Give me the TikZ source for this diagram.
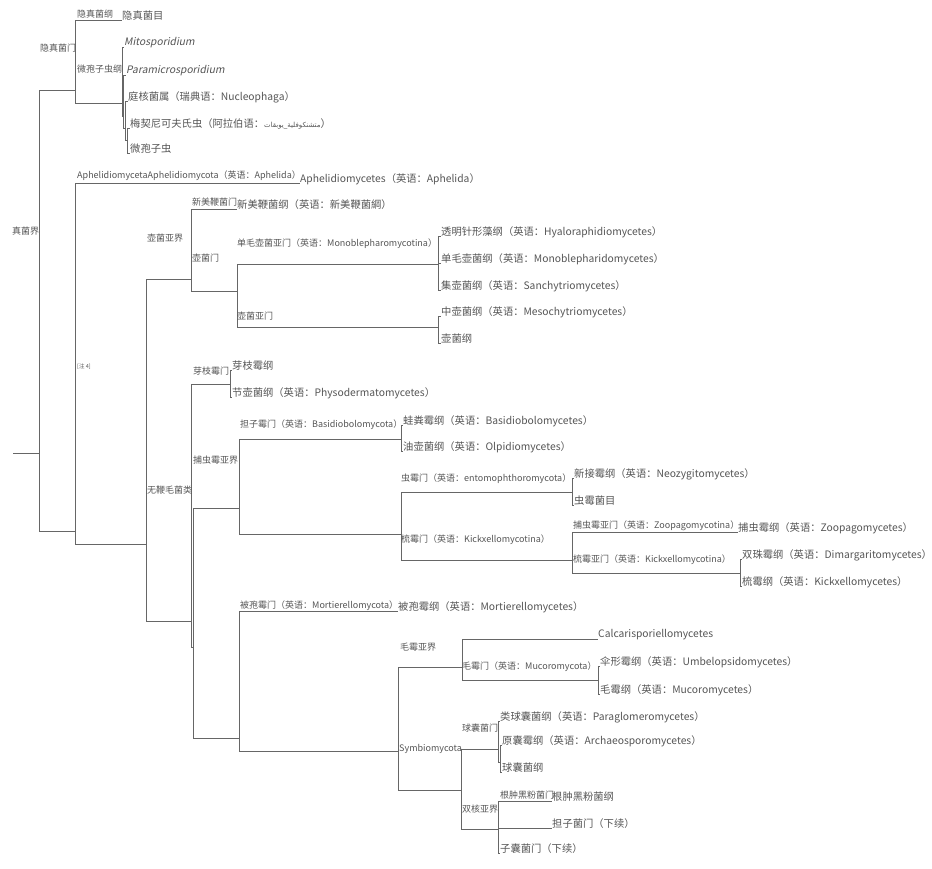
\documentclass[tikz,border=0pt]{standalone}
\usepackage{fontspec}
\setmainfont{Noto Sans CJK SC}
\newfontfamily\itf[FakeSlant=0.2]{Noto Sans CJK SC}
\newfontfamily\arabf[Script=Arabic]{DejaVu Sans}
\TeXXeTstate=1
\definecolor{txtgray}{HTML}{555555}
\definecolor{linegray}{HTML}{666666}
\begin{document}
\begin{tikzpicture}[
        x=1pt, y=-1pt,
        br/.style={draw=linegray, line width=0.9pt},
        lbl/.style={anchor=west, inner sep=0pt, text=txtgray, font=\fontsize{9}{10}\selectfont},
        leaf/.style={anchor=west, inner sep=0pt, yshift=4pt, text=txtgray, font=\fontsize{10.3}{11}\selectfont},
        note/.style={anchor=west, inner sep=0pt, text=txtgray, font=\fontsize{5.5}{6}\selectfont}
    ]
        \useasboundingbox (0,0) rectangle (932,868);

        % Junctions
        \coordinate (r0) at (13,453);
        \coordinate (root) at (39,453);
        \coordinate (crypto) at (75,90);
        \coordinate (microcls) at (122,103);
        \coordinate (micro2) at (123.5,116);
        \coordinate (micro3) at (125.5,128);
        \coordinate (micro4) at (127.5,140);
        \coordinate (opis) at (75,531);
        \coordinate (fungi2) at (146,544);
        \coordinate (chytsub) at (191,279);
        \coordinate (chytphy) at (237,291);
        \coordinate (monosub) at (438,264);
        \coordinate (chytsub2) at (438,327);
        \coordinate (aflag) at (191,621);
        \coordinate (blasto) at (230,384);
        \coordinate (aflag2) at (193,647);
        \coordinate (zoosub) at (239,508);
        \coordinate (basidio) at (401,439);
        \coordinate (zoo2) at (401,534);
        \coordinate (ento) at (572,492);
        \coordinate (kickx) at (572,560);
        \coordinate (kicksub) at (740,573);
        \coordinate (mucsub0) at (239,738);
        \coordinate (mucsub2) at (398,751);
        \coordinate (mucsub) at (462,667);
        \coordinate (mucphy) at (598,680);
        \coordinate (symbio) at (461,790);
        \coordinate (glomer) at (498,749);
        \coordinate (glomer2) at (500,762);
        \coordinate (dikarya) at (498,829);

        % Leaf ends
        \coordinate (crypord) at (122,20);
        \coordinate (mito) at (124,47);
        \coordinate (parami) at (126,75);
        \coordinate (nucleo) at (128,101);
        \coordinate (metch) at (130,128);
        \coordinate (microsp) at (130,153);
        \coordinate (aphel) at (300,183);
        \coordinate (neocal) at (237,209);
        \coordinate (hyalo) at (441,236);
        \coordinate (monobl) at (441,263);
        \coordinate (sanchy) at (441,290);
        \coordinate (mesoch) at (441,316);
        \coordinate (chytcls) at (441,343);
        \coordinate (blastcls) at (232,370);
        \coordinate (physod) at (232,397);
        \coordinate (basidcls) at (403,425);
        \coordinate (olpid) at (403,451);
        \coordinate (neozyg) at (574,478);
        \coordinate (entoord) at (574,505);
        \coordinate (zoopag) at (738,532);
        \coordinate (dimarg) at (742,559);
        \coordinate (kickcls) at (742,586);
        \coordinate (mortie) at (398,611);
        \coordinate (calcar) at (598,639);
        \coordinate (umbel) at (600,666);
        \coordinate (mucorcls) at (600,694);
        \coordinate (paraglo) at (500,721);
        \coordinate (archae) at (502,745);
        \coordinate (glomcls) at (502,772);
        \coordinate (ustil) at (552,801);
        \coordinate (basidphy) at (552,828);
        \coordinate (ascophy) at (500,853);

        % Branches
        \draw[br] (r0) -- (root);
        \draw[br] (root) |- (crypto);
        \draw[br] (root) |- (opis);
        \draw[br] (crypto) |- (crypord);
        \draw[br] (crypto) |- (microcls);
        \draw[br] (microcls) |- (mito);
        \draw[br] (microcls) |- (micro2);
        \draw[br] (micro2) |- (parami);
        \draw[br] (micro2) |- (micro3);
        \draw[br] (micro3) |- (nucleo);
        \draw[br] (micro3) |- (micro4);
        \draw[br] (micro4) |- (metch);
        \draw[br] (micro4) |- (microsp);
        \draw[br] (opis) |- (aphel);
        \draw[br] (opis) |- (fungi2);
        \draw[br] (fungi2) |- (chytsub);
        \draw[br] (fungi2) |- (aflag);
        \draw[br] (chytsub) |- (neocal);
        \draw[br] (chytsub) |- (chytphy);
        \draw[br] (chytphy) |- (monosub);
        \draw[br] (chytphy) |- (chytsub2);
        \draw[br] (monosub) |- (hyalo);
        \draw[br] (monosub) |- (monobl);
        \draw[br] (monosub) |- (sanchy);
        \draw[br] (chytsub2) |- (mesoch);
        \draw[br] (chytsub2) |- (chytcls);
        \draw[br] (aflag) |- (blasto);
        \draw[br] (aflag) |- (aflag2);
        \draw[br] (blasto) |- (blastcls);
        \draw[br] (blasto) |- (physod);
        \draw[br] (aflag2) |- (zoosub);
        \draw[br] (aflag2) |- (mucsub0);
        \draw[br] (zoosub) |- (basidio);
        \draw[br] (zoosub) |- (zoo2);
        \draw[br] (basidio) |- (basidcls);
        \draw[br] (basidio) |- (olpid);
        \draw[br] (zoo2) |- (ento);
        \draw[br] (zoo2) |- (kickx);
        \draw[br] (ento) |- (neozyg);
        \draw[br] (ento) |- (entoord);
        \draw[br] (kickx) |- (zoopag);
        \draw[br] (kickx) |- (kicksub);
        \draw[br] (kicksub) |- (dimarg);
        \draw[br] (kicksub) |- (kickcls);
        \draw[br] (mucsub0) |- (mortie);
        \draw[br] (mucsub0) |- (mucsub2);
        \draw[br] (mucsub2) |- (mucsub);
        \draw[br] (mucsub2) |- (symbio);
        \draw[br] (mucsub) |- (calcar);
        \draw[br] (mucsub) |- (mucphy);
        \draw[br] (mucphy) |- (umbel);
        \draw[br] (mucphy) |- (mucorcls);
        \draw[br] (symbio) |- (glomer);
        \draw[br] (symbio) |- (dikarya);
        \draw[br] (glomer) |- (paraglo);
        \draw[br] (glomer) |- (glomer2);
        \draw[br] (glomer2) |- (archae);
        \draw[br] (glomer2) |- (glomcls);
        \draw[br] (dikarya) |- (ustil);
        \draw[br] (dikarya) |- (basidphy);
        \draw[br] (dikarya) |- (ascophy);

        % Clade labels
        \node[lbl] (lfungi) at (12,231) {真菌界};
        \node[lbl] (lcrypto) at (40,48) {隐真菌门};
        \node[lbl] (lcrypcls) at (77,14) {隐真菌纲};
        \node[lbl] (lmicro) at (77,69) {微孢子虫纲};
        \node[lbl] (laphphy) at (77,176) {AphelidiomycetaAphelidiomycota（英语：Aphelida）};
        \node[note] (lnote) at (77,367) {[注 4]};
        \node[lbl] (lchytsub) at (147,238) {壶菌亚界};
        \node[lbl] (lneocal) at (192,202) {新美鞭菌门};
        \node[lbl] (lchytphy) at (192,258) {壶菌门};
        \node[lbl] (lmonosub) at (237,244) {单毛壶菌亚门（英语：Monoblepharomycotina）};
        \node[lbl] (lchytsub2) at (237,316) {壶菌亚门};
        \node[lbl] (laflag) at (147,490) {无鞭毛菌类};
        \node[lbl] (lblasto) at (193,371) {芽枝霉门};
        \node[lbl] (lzoosub) at (193,460) {捕虫霉亚界};
        \node[lbl] (lbasidio) at (240,425) {担子霉门（英语：Basidiobolomycota）};
        \node[lbl] (lento) at (401,479) {虫霉门（英语：entomophthoromycota）};
        \node[lbl] (lkickx) at (401,540) {梳霉门（英语：Kickxellomycotina）};
        \node[lbl] (lzoopag) at (573,526) {捕虫霉亚门（英语：Zoopagomycotina）};
        \node[lbl] (lkicksub) at (573,560) {梳霉亚门（英语：Kickxellomycotina）};
        \node[lbl] (lmortie) at (240,606) {被孢霉门（英语：Mortierellomycota）};
        \node[lbl] (lmucsub) at (400,647) {毛霉亚界};
        \node[lbl] (lmucphy) at (462,667) {毛霉门（英语：Mucoromycota）};
        \node[lbl] (lsymbio) at (399,749) {Symbiomycota};
        \node[lbl] (lglomer) at (462,728) {球囊菌门};
        \node[lbl] (ldikarya) at (462,809) {双核亚界};
        \node[lbl] (lustil) at (500,795) {根肿黑粉菌门};

        % Leaf labels
        \node[leaf] at (crypord) {隐真菌目};
        \node[leaf] at (mito) {\itf Mitosporidium};
        \node[leaf] at (parami) {\itf Paramicrosporidium};
        \node[leaf] at (nucleo) {庭核菌属（瑞典语：Nucleophaga）};
        \node[leaf] at (metch) {梅契尼可夫氏虫（阿拉伯语：{\arabf\fontsize{7}{8}\selectfont\beginR متشنكوفلية\_يوبقات\endR}）};
        \node[leaf] at (microsp) {微孢子虫};
        \node[leaf] at (aphel) {Aphelidiomycetes（英语：Aphelida）};
        \node[leaf] at (neocal) {新美鞭菌纲（英语：新美鞭菌綱）};
        \node[leaf] at (hyalo) {透明针形藻纲（英语：Hyaloraphidiomycetes）};
        \node[leaf] at (monobl) {单毛壶菌纲（英语：Monoblepharidomycetes）};
        \node[leaf] at (sanchy) {集壶菌纲（英语：Sanchytriomycetes）};
        \node[leaf] at (mesoch) {中壶菌纲（英语：Mesochytriomycetes）};
        \node[leaf] at (chytcls) {壶菌纲};
        \node[leaf] at (blastcls) {芽枝霉纲};
        \node[leaf] at (physod) {节壶菌纲（英语：Physodermatomycetes）};
        \node[leaf] at (basidcls) {蛙粪霉纲（英语：Basidiobolomycetes）};
        \node[leaf] at (olpid) {油壶菌纲（英语：Olpidiomycetes）};
        \node[leaf] at (neozyg) {新接霉纲（英语：Neozygitomycetes）};
        \node[leaf] at (entoord) {虫霉菌目};
        \node[leaf] at (zoopag) {捕虫霉纲（英语：Zoopagomycetes）};
        \node[leaf] at (dimarg) {双珠霉纲（英语：Dimargaritomycetes）};
        \node[leaf] at (kickcls) {梳霉纲（英语：Kickxellomycetes）};
        \node[leaf] at (mortie) {被孢霉纲（英语：Mortierellomycetes）};
        \node[leaf] at (calcar) {Calcarisporiellomycetes};
        \node[leaf] at (umbel) {伞形霉纲（英语：Umbelopsidomycetes）};
        \node[leaf] at (mucorcls) {毛霉纲（英语：Mucoromycetes）};
        \node[leaf] at (paraglo) {类球囊菌纲（英语：Paraglomeromycetes）};
        \node[leaf] at (archae) {原囊霉纲（英语：Archaeosporomycetes）};
        \node[leaf] at (glomcls) {球囊菌纲};
        \node[leaf] at (ustil) {根肿黑粉菌纲};
        \node[leaf] at (basidphy) {担子菌门（下续）};
        \node[leaf] at (ascophy) {子囊菌门（下续）};

    \end{tikzpicture}
\end{document}
